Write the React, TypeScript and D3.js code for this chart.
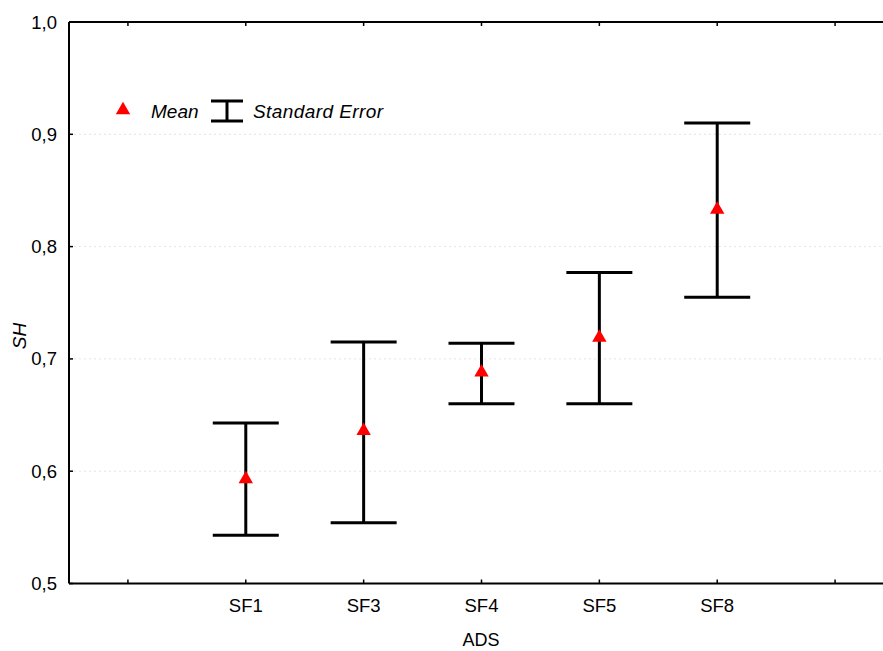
import React from "react";
import * as d3 from "d3";

const categories = ["", "SF1", "SF3", "SF4", "SF5", "SF8", ""];
const groups = ["SF1", "SF3", "SF4", "SF5", "SF8"];
const means = [0.593, 0.636, 0.688, 0.719, 0.833];
const upper = [0.643, 0.715, 0.714, 0.777, 0.910];
const lower = [0.543, 0.554, 0.660, 0.660, 0.755];
const yTicks = [0.5, 0.6, 0.7, 0.8, 0.9, 1.0];

const W = 883, H = 651;
const left = 69, top = 22, bottom = 583.5, right = 894;
const font = "'Liberation Sans', Arial, sans-serif";

export default function App() {
  const x = d3.scalePoint<number>().domain(d3.range(categories.length)).range([left, right]).padding(0.5);
  const y = d3.scaleLinear().domain([0.5, 1.0]).range([bottom, top]);
  const fmt = (v: number) => v.toFixed(1).replace(".", ",");
  const tri = d3.symbol().type(d3.symbolTriangle).size(90);
  const capHalf = 33;
  return (
    <svg width={W} height={H} style={{ position: "absolute", left: 0, top: 0, background: "#fff" }}>
      <rect width={W} height={H} fill="#fff" />
      {yTicks.slice(1, -1).map((t) => (
        <line key={"g" + t} x1={left} x2={W} y1={y(t)} y2={y(t)} stroke="#ddd" strokeWidth={0.8} strokeDasharray="2,3" />
      ))}
      {/* axes */}
      <line x1={left} x2={W} y1={bottom} y2={bottom} stroke="#000" strokeWidth={2} />
      <line x1={left} x2={W} y1={top} y2={top} stroke="#000" strokeWidth={2} />
      <line x1={left} x2={left} y1={top} y2={bottom} stroke="#000" strokeWidth={2} />
      {categories.map((c, i) => (
        <g key={"xt" + i}>
          <line x1={x(i)} x2={x(i)} y1={bottom} y2={bottom - 4} stroke="#000" strokeWidth={1.5} />
          <line x1={x(i)} x2={x(i)} y1={top} y2={top + 4} stroke="#000" strokeWidth={1.5} />
          <text x={x(i)} y={bottom + 28.5} textAnchor="middle" fontFamily={font} fontSize={18.5} fill="#000">{c}</text>
        </g>
      ))}
      {yTicks.map((t) => (
        <g key={"yt" + t}>
          <line x1={left} x2={left + 4} y1={y(t)} y2={y(t)} stroke="#000" strokeWidth={1.5} />
          <text x={57} y={y(t) + 6.5} textAnchor="end" fontFamily={font} fontSize={18.5} fill="#000">{fmt(t)}</text>
        </g>
      ))}
      <text x={481} y={646} textAnchor="middle" fontFamily={font} fontSize={18} fill="#000">ADS</text>
      <text transform={`translate(26,336) rotate(-90)`} textAnchor="middle" fontFamily={font} fontSize={19} fontStyle="italic" fill="#000">SH</text>
      {/* error bars */}
      {groups.map((g, i) => {
        const cx = x(categories.indexOf(g))!;
        return (
          <g key={g}>
            <line x1={cx} x2={cx} y1={y(upper[i])} y2={y(lower[i])} stroke="#000" strokeWidth={3} />
            <line x1={cx - capHalf} x2={cx + capHalf} y1={y(upper[i])} y2={y(upper[i])} stroke="#000" strokeWidth={3} />
            <line x1={cx - capHalf} x2={cx + capHalf} y1={y(lower[i])} y2={y(lower[i])} stroke="#000" strokeWidth={3} />
            <path d={tri()!} transform={`translate(${cx},${y(means[i])})`} fill="#ff0000" />
          </g>
        );
      })}
      {/* legend */}
      <path d={tri()!} transform="translate(123,110)" fill="#ff0000" />
      <text x={151} y={117.5} fontFamily={font} fontSize={19} fontStyle="italic" fill="#000">Mean</text>
      <line x1={211} x2={243} y1={101} y2={101} stroke="#000" strokeWidth={3} />
      <line x1={211} x2={243} y1={121} y2={121} stroke="#000" strokeWidth={3} />
      <line x1={227} x2={227} y1={101} y2={121} stroke="#000" strokeWidth={3} />
      <text x={253} y={117.5} fontFamily={font} fontSize={19} fontStyle="italic" fill="#000" textLength={130}>Standard Error</text>
    </svg>
  );
}
